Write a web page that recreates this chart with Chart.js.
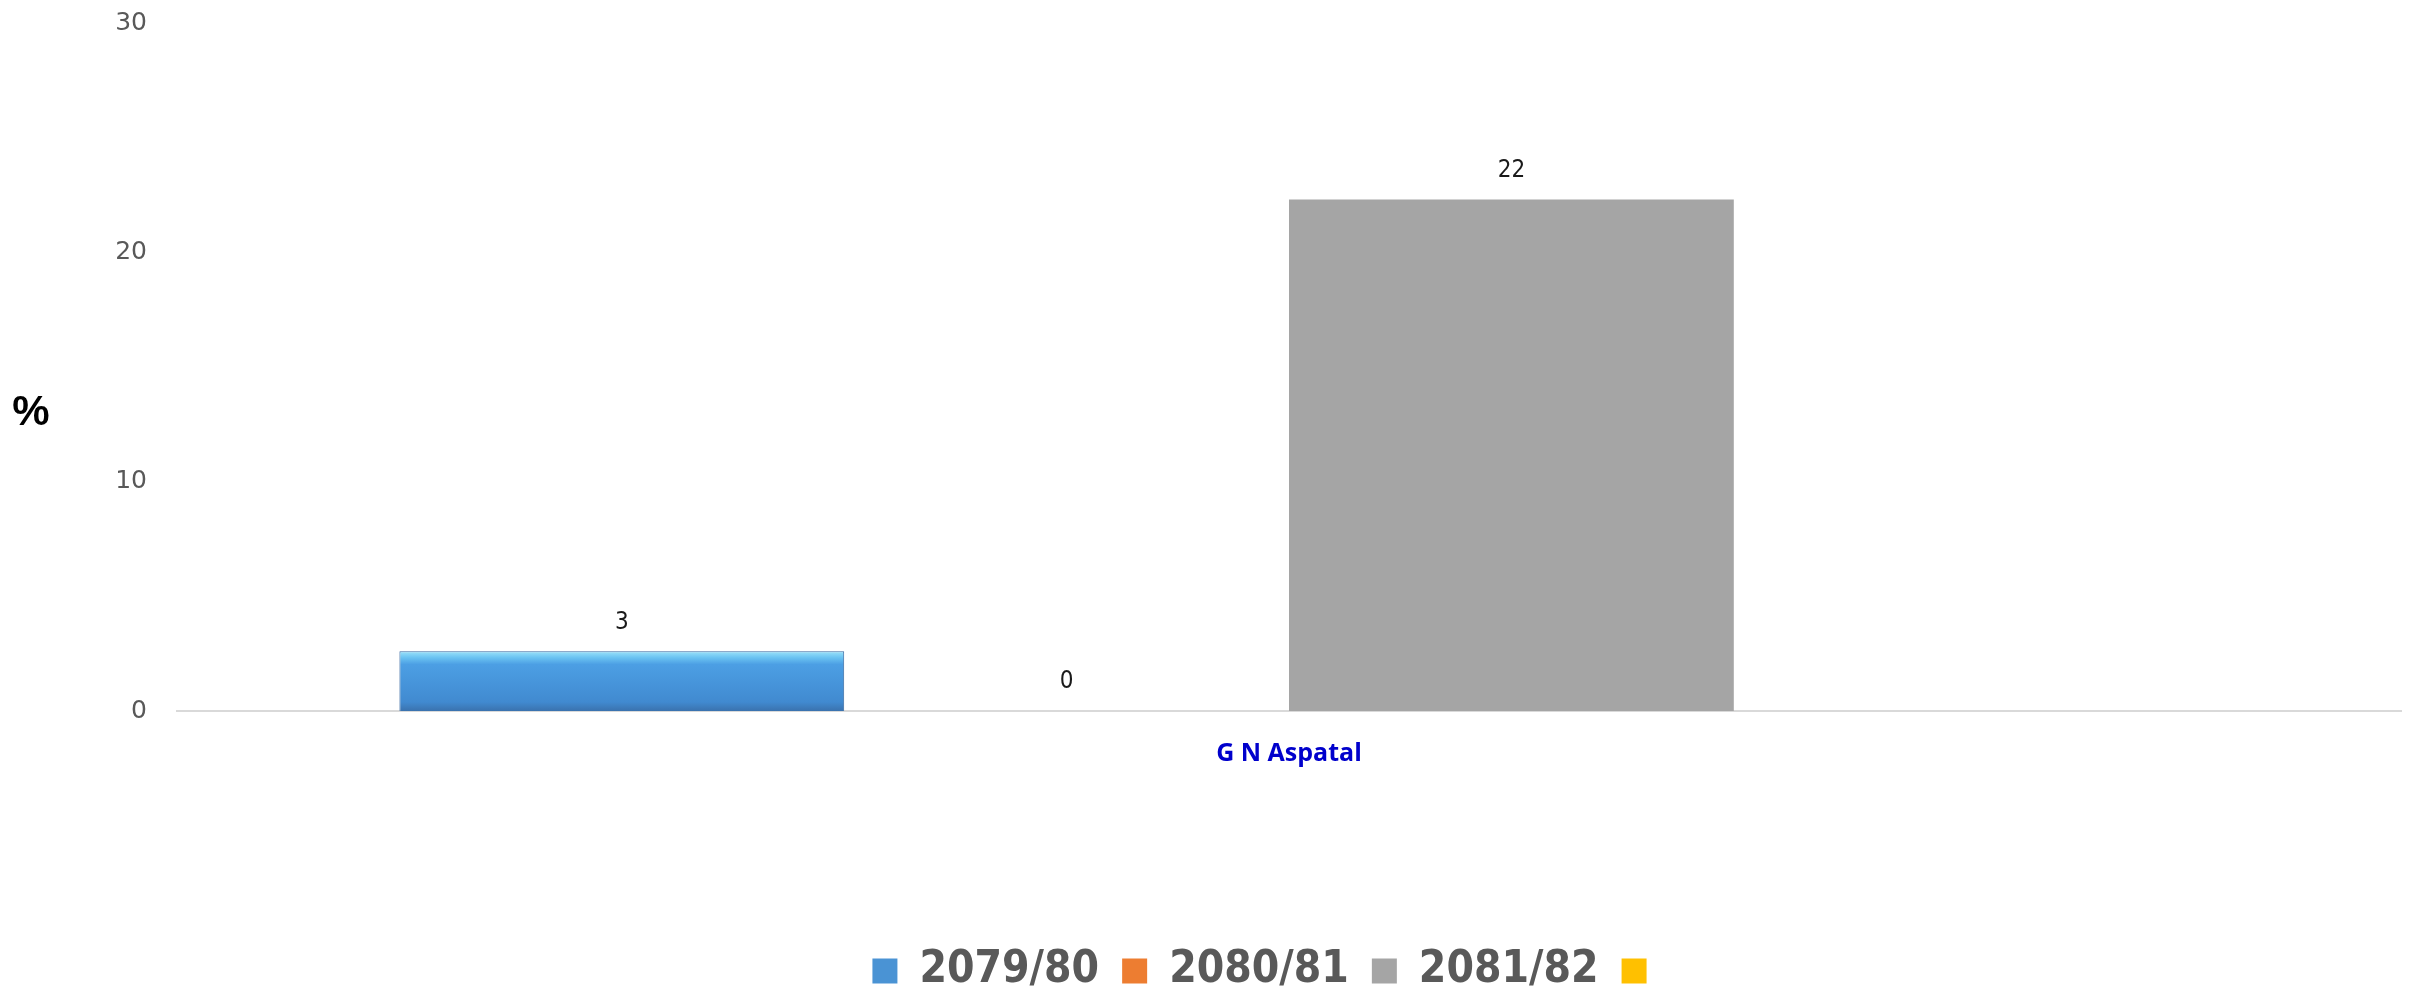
<!DOCTYPE html>
<html>
<head>
<meta charset="utf-8">
<title>G N Aspatal</title>
<script src="https://cdn.jsdelivr.net/npm/chart.js@4.4.1/dist/chart.umd.min.js"></script>
<style>
  html, body { margin: 0; padding: 0; background: #fff; }
  #wrap { width: 2417px; height: 989px; position: relative; }
</style>
</head>
<body>
<div id="wrap"><canvas id="chart" width="2417" height="989"></canvas></div>
<script>
// Data
const categories = ['G N Aspatal'];
const seriesLabels = ['2079/80', '2080/81', '2081/82', ''];
const values2079 = [2.6];
const values2080 = [0];
const values2081 = [22.3];
const valuesExtra = [null];
const yTicks = [0, 10, 20, 30];

const legendColors = ['#4A93D4', '#ED7D31', '#A5A5A5', '#FFC000'];

/**
 * Glossy blue fill for the first series (light top edge, darker base)
 */
function blueFill(context) {
    const chart = context.chart;
    const y = chart.scales && chart.scales.y;
    if (!y || context.raw == null) return '#4A96D6';
    const top = y.getPixelForValue(context.raw);
    const base = y.getPixelForValue(0);
    const h = base - top;
    if (!isFinite(h) || h < 4) return '#4A96D6';
    const g = chart.ctx.createLinearGradient(0, top, 0, base);
    g.addColorStop(0, '#9BE2FA');
    g.addColorStop(Math.min(0.3, 6 / h), '#6CC4F2');
    g.addColorStop(Math.min(0.4, 13 / h), '#4C9FE4');
    g.addColorStop(0.85, '#418AD0');
    g.addColorStop(1, '#3A72AE');
    return g;
}

/**
 * Value labels above bars plus the "%" unit label
 */
const valueLabels = {
    id: 'valueLabels',
    afterDatasetsDraw(chart) {
        const ctx = chart.ctx;
        ctx.save();
        ctx.font = '24px "DejaVu Sans Condensed", "Liberation Sans Narrow", sans-serif';
        ctx.fillStyle = '#1a1a1a';
        ctx.textAlign = 'center';
        ctx.textBaseline = 'middle';
        chart.data.datasets.forEach((ds, i) => {
            const meta = chart.getDatasetMeta(i);
            meta.data.forEach((bar, j) => {
                const v = ds.data[j];
                if (v === null || v === undefined) return;
                ctx.fillText(String(Math.round(v)), bar.x, bar.y - 29);
            });
        });

        const area = chart.chartArea;
        ctx.fillStyle = '#000';
        ctx.font = 'bold 42px "Liberation Sans", Arial, sans-serif';
        ctx.fillText('%', 31, area.top + (area.bottom - area.top) * 0.567);
        ctx.restore();
    }
};

/**
 * Nudge the legend to the right (the source legend is off-centre)
 */
const legendShift = {
    id: 'legendShift',
    afterLayout(chart) {
        if (!chart.legend) return;
        chart.legend.left += 70;
        chart.legend.right += 70;
    }
};

const chart = new Chart(document.getElementById('chart'), {
    type: 'bar',
    data: {
        labels: categories,
        datasets: [
            { label: seriesLabels[0], data: values2079, backgroundColor: blueFill, borderColor: '#3568A0', borderWidth: 1 },
            { label: seriesLabels[1], data: values2080, backgroundColor: '#ED7D31' },
            { label: seriesLabels[2], data: values2081, backgroundColor: '#A5A5A5' },
            { label: seriesLabels[3], data: valuesExtra, backgroundColor: '#FFC000' }
        ]
    },
    options: {
        responsive: false,
        animation: false,
        categoryPercentage: 0.8,
        barPercentage: 1.0,
        layout: { padding: { top: 23, right: 16, bottom: -14, left: 0 } },
        plugins: {
            tooltip: { enabled: false },
            legend: {
                position: 'bottom',
                labels: {
                    boxWidth: 25,
                    boxHeight: 25,
                    padding: 23,
                    color: '#595959',
                    font: { family: '"Liberation Sans Narrow", "DejaVu Sans Condensed", sans-serif', weight: 'bold', size: 44 },
                    generateLabels(chart) {
                        return chart.data.datasets.map((ds, i) => ({
                            text: ds.label,
                            fillStyle: legendColors[i],
                            strokeStyle: legendColors[i],
                            fontColor: '#595959',
                            lineWidth: 0,
                            hidden: false,
                            datasetIndex: i
                        }));
                    }
                }
            }
        },
        scales: {
            x: {
                grid: { display: false, drawTicks: false },
                border: { display: true, color: '#D9D9D9', width: 2 },
                ticks: {
                    color: '#0000CC',
                    padding: 28,
                    font: { family: '"Open Sans", sans-serif', weight: 'bold', size: 25 }
                },
                afterFit(scale) { scale.height = 215; }
            },
            y: {
                min: 0,
                max: 30,
                grid: { display: false, drawTicks: false },
                border: { display: false },
                afterBuildTicks(scale) { scale.ticks = yTicks.map(v => ({ value: v })); },
                ticks: {
                    color: '#595959',
                    padding: 30,
                    font: { family: '"DejaVu Sans", sans-serif', size: 25 }
                },
                afterFit(scale) {
                    scale.width = 177;
                    scale.paddingTop = 15;
                    scale.paddingBottom = 15;
                }
            }
        }
    },
    plugins: [valueLabels, legendShift]
});
</script>
</body>
</html>
